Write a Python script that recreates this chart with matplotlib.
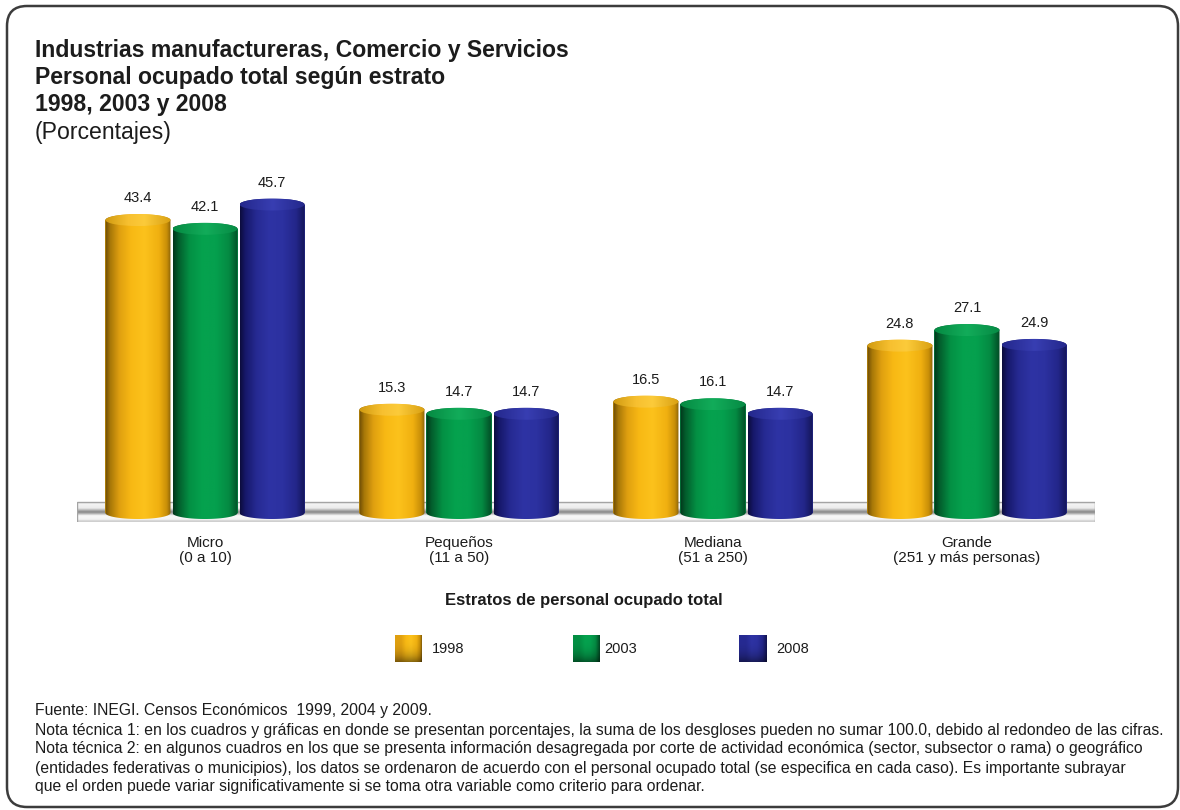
import numpy as np
import matplotlib
matplotlib.use("Agg")
import matplotlib.pyplot as plt
from matplotlib.patches import PathPatch, Ellipse, FancyBboxPatch, Rectangle
from matplotlib.path import Path
from matplotlib.colors import to_rgb

# ---------------- data ----------------
categories = ["Micro\n(0 a 10)", "Pequeños\n(11 a 50)", "Mediana\n(51 a 250)",
              "Grande\n(251 y más personas)"]
years = ["1998", "2003", "2008"]
v1998 = [43.4, 15.3, 16.5, 24.8]
v2003 = [42.1, 14.7, 16.1, 27.1]
v2008 = [45.7, 14.7, 14.7, 24.9]
series = [v1998, v2003, v2008]

title_lines = ["Industrias manufactureras, Comercio y Servicios",
               "Personal ocupado total según estrato",
               "1998, 2003 y 2008"]
subtitle = "(Porcentajes)"
xlabel = "Estratos de personal ocupado total"
footer_lines = [
    "Fuente: INEGI. Censos Económicos  1999, 2004 y 2009.",
    "Nota técnica 1: en los cuadros y gráficas en donde se presentan porcentajes, la suma de los desgloses pueden no sumar 100.0, debido al redondeo de las cifras.",
    "Nota técnica 2: en algunos cuadros en los que se presenta información desagregada por corte de actividad económica (sector, subsector o rama) o geográfico",
    "(entidades federativas o municipios), los datos se ordenaron de acuerdo con el personal ocupado total (se especifica en cada caso). Es importante subrayar",
    "que el orden puede variar significativamente si se toma otra variable como criterio para ordenar.",
]

# ---------------- styles ----------------
base_colors = ["#f5b510", "#03a04e", "#2b30a0"]
body_stops = [
    [(0.0, "#6b4a05"), (0.08, "#a87808"), (0.22, "#e0a010"), (0.4, "#f8b914"),
     (0.6, "#fcc21c"), (0.82, "#f0b010"), (0.94, "#c88e08"), (1.0, "#8a6208")],
    [(0.0, "#02341a"), (0.08, "#035c2c"), (0.25, "#039044"), (0.45, "#05a24e"),
     (0.65, "#05a04e"), (0.85, "#048a42"), (1.0, "#024a24")],
    [(0.0, "#0c0c3c"), (0.08, "#16186a"), (0.25, "#262a92"), (0.45, "#2e33a4"),
     (0.65, "#2c31a0"), (0.85, "#23268a"), (1.0, "#121452")],
]
cap_stops = [
    [(0.0, "#d09a10"), (0.35, "#f7c030"), (0.6, "#fccb3a"), (1.0, "#d9a012")],
    [(0.0, "#058a42"), (0.5, "#12ac5a"), (1.0, "#068a44")],
    [(0.0, "#24288c"), (0.5, "#383eb2"), (1.0, "#23278a")],
]

plt.rcParams["font.family"] = ["Liberation Sans", "DejaVu Sans"]
TXT = "#1c1c1c"


def grad(stops, n=256):
    pos = np.array([s[0] for s in stops])
    cols = np.array([to_rgb(s[1]) for s in stops])
    t = np.linspace(0, 1, n)
    return np.stack([np.interp(t, pos, cols[:, c]) for c in range(3)], axis=-1)


W, H = 1180, 810
fig = plt.figure(figsize=(W / 100, H / 100), dpi=100)
fig.patch.set_facecolor("white")

# overlay in pixel coordinates for frame and texts
ov = fig.add_axes([0, 0, 1, 1], zorder=0)
ov.set_xlim(0, W)
ov.set_ylim(H, 0)
ov.axis("off")
ov.add_patch(FancyBboxPatch((7, 6), 1171, 801,
                            boxstyle="round,pad=0,rounding_size=20",
                            fc="white", ec="#3c3c3c", lw=1.8))

# main axes
k = 6.75          # px per unit
base_px = 513
ax_bot, ax_top = 522, 163
x_left, x_right = 77, 1095
ax = fig.add_axes([x_left / W, 1 - ax_bot / H, (x_right - x_left) / W,
                   (ax_bot - ax_top) / H], zorder=1)
ax.patch.set_alpha(0)
ylo, yhi = (base_px - ax_bot) / k, (base_px - ax_top) / k
xlo, xhi = -0.504, 3.504
plat_top = (base_px - 502) / k

# platform
plat_stops = [(0.0, "#a8a8a8"), (0.06, "#f5f5f5"), (0.30, "#ececec"),
              (0.40, "#b4b4b4"), (0.50, "#868686"), (0.60, "#c0c0c0"),
              (0.68, "#f8f8f8"), (0.88, "#f4f4f4"), (0.95, "#cccccc"), (1.0, "#e4e4e4")]
pimg = grad(plat_stops, 64).reshape(64, 1, 3)
ax.imshow(pimg, extent=[xlo, xhi, ylo, plat_top], aspect="auto",
          interpolation="bilinear", origin="upper", zorder=1)
ax.add_patch(Rectangle((xlo, ylo), xhi - xlo, plat_top - ylo, fc="none",
                       ec="#a4a4a4", lw=1.0, zorder=1.5))

x = np.arange(len(categories))
bw = 0.256
offs = [-0.264, 0.0, 0.264]
cap_h = 12 / k

for i, vals in enumerate(series):
    bars = ax.bar(x + offs[i], vals, bw, color=base_colors[i], zorder=2 + i * 0.01,
                  linewidth=0)
    for r in bars:
        x0, w, v = r.get_x(), r.get_width(), r.get_height()
        xc = x0 + w / 2
        t1 = np.linspace(np.pi, 2 * np.pi, 60)
        t2 = np.linspace(0, np.pi, 60)
        verts = np.concatenate([
            np.c_[xc + w / 2 * np.cos(t1), cap_h / 2 * np.sin(t1)],
            np.c_[xc + w / 2 * np.cos(t2), v + cap_h / 2 * np.sin(t2)],
            [[xc - w / 2, 0]]])
        body = PathPatch(Path(verts), fc="none", ec="none", transform=ax.transData)
        ax.add_patch(body)
        im = ax.imshow(grad(body_stops[i]).reshape(1, -1, 3),
                       extent=[x0, x0 + w, -cap_h / 2, v + cap_h / 2],
                       aspect="auto", interpolation="bilinear", zorder=3)
        im.set_clip_path(body)
        cap = Ellipse((xc, v), w, cap_h, fc="none", ec="none", transform=ax.transData)
        ax.add_patch(cap)
        im2 = ax.imshow(grad(cap_stops[i]).reshape(1, -1, 3),
                        extent=[x0, x0 + w, v - cap_h / 2, v + cap_h / 2],
                        aspect="auto", interpolation="bilinear", zorder=4)
        im2.set_clip_path(cap)
        ax.annotate(f"{v:.1f}", (xc, v + cap_h / 2), xytext=(0, 11.5),
                    textcoords="offset points", ha="center", va="center",
                    fontsize=10.5, color=TXT, zorder=5)

ax.set_xlim(xlo, xhi)
ax.set_ylim(ylo, yhi)
ax.set_xticks(x)
ax.set_xticklabels(categories, fontsize=11, color=TXT, linespacing=1.1)
ax.tick_params(axis="x", length=0, pad=10)
ax.set_yticks([])
for s in ax.spines.values():
    s.set_visible(False)

# x axis title
ov.text(584, 600, xlabel, ha="center", va="center", fontsize=12,
        fontweight="bold", color=TXT)

# legend
sq = [(395, 422), (573, 600), (739, 767)]
lab_x = [432, 604, 776]
for i, yr in enumerate(years):
    g = grad(body_stops[i][2:], 32)
    yy = np.linspace(0, 1, 32)[:, None, None]
    img = g[None, :, :] * (1 - 0.45 * yy ** 3)
    a, b = sq[i]
    ov.imshow(img, extent=[a, b, 662, 635], aspect="auto", interpolation="bilinear",
              origin="upper", zorder=2)
    ov.text(lab_x[i], 649, yr, ha="left", va="center", fontsize=10.5, color=TXT)
ov.set_xlim(0, W)
ov.set_ylim(H, 0)

# titles
for j, line in enumerate(title_lines):
    ov.text(35, [57, 84, 111][j], line, fontsize=16.6, fontweight="bold",
            color=TXT, va="baseline", ha="left")
ov.text(35, 139, subtitle, fontsize=16.6, color=TXT, va="baseline", ha="left")

# footer
for j, line in enumerate(footer_lines):
    ov.text(35, 711 + 19 * j, line, fontsize=11.3, color=TXT, va="center", ha="left")

fig.savefig("out.png", dpi=100, facecolor="white")
